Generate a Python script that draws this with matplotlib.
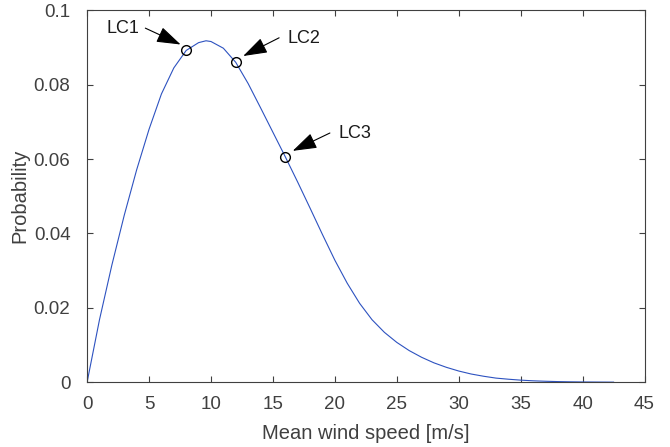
import numpy as np
import matplotlib
matplotlib.use("Agg")
import matplotlib.pyplot as plt

plt.rcParams['font.family'] = ['Liberation Sans', 'DejaVu Sans']

# Probability curve (wind speed in m/s)
wind_speed = [0, 1, 2, 3, 4, 5, 6, 7, 8, 9, 9.6, 10, 11, 12, 13, 14, 15, 16,
              17, 18, 19, 20, 21, 22, 23, 24, 25, 26, 27, 28, 29, 30, 31, 32,
              33, 34, 35, 36, 37, 38, 39, 40, 41, 42, 42.5]
probability = [0.0, 0.0168, 0.0315, 0.0449, 0.0571, 0.0680, 0.0775, 0.0845,
               0.0892, 0.0913, 0.0918, 0.0916, 0.0898, 0.0860, 0.0803, 0.0738,
               0.0672, 0.0606, 0.0538, 0.0468, 0.0397, 0.0328, 0.0266, 0.0212,
               0.0168, 0.0134, 0.0107, 0.0085, 0.0067, 0.0052, 0.0040, 0.0030,
               0.0022, 0.0016, 0.0011, 0.0008, 0.00055, 0.00037, 0.00025,
               0.00016, 0.0001, 0.00006, 0.00004, 0.00002, 0.00001]

# load cases marked on the curve
lc_names = ['LC1', 'LC2', 'LC3']
lc_speed = [8, 12, 16]
lc_prob = [0.0892, 0.0860, 0.0606]

fig = plt.figure(figsize=(6.7, 4.47), dpi=100)
ax = fig.add_axes([0.130, 0.145, 0.832, 0.832])

ax.plot(wind_speed, probability, color='#2d52c0', linewidth=0.8)
ax.plot(lc_speed, lc_prob, linestyle='none', marker='o', markersize=7,
        markerfacecolor='none', markeredgecolor='black', markeredgewidth=1.0)

# label position, arrow start and arrow tip for each load case
text_pos = [(2.9, 0.0950), (17.5, 0.0925), (21.6, 0.0670)]
arrow_tail = [(4.7, 0.0952), (15.5, 0.0926), (19.6, 0.0670)]
arrow_tip = [(7.55, 0.0908), (12.6, 0.0877), (16.6, 0.0622)]

for name, tp, tail, tip in zip(lc_names, text_pos, arrow_tail, arrow_tip):
    ax.text(tp[0], tp[1], name, ha='center', va='center', fontsize=13,
            color='#1a1a1a')
    ax.annotate('', xy=tip, xytext=tail,
                arrowprops=dict(arrowstyle='-|>,head_length=1.5,head_width=0.5',
                                color='black', lw=0.8, shrinkA=0, shrinkB=0,
                                mutation_scale=10))

ax.set_xlim(0, 45)
ax.set_ylim(0, 0.1)
ax.set_xticks(np.arange(0, 46, 5))
ax.set_yticks([0, 0.02, 0.04, 0.06, 0.08, 0.1])
ax.set_yticklabels(['0', '0.02', '0.04', '0.06', '0.08', '0.1'])

ax.set_xlabel('Mean wind speed [m/s]', fontsize=14.5, color='#404040', labelpad=8)
ax.set_ylabel('Probability', fontsize=14.5, color='#404040', labelpad=3)

for side in ax.spines.values():
    side.set_color('#404040')
    side.set_linewidth(0.8)
ax.tick_params(direction='in', length=4, width=0.8, colors='#404040',
               labelsize=13.5, top=True, right=True, labeltop=False,
               labelright=False)
ax.tick_params(axis='x', pad=10)
ax.tick_params(axis='y', pad=12)

fig.savefig('out.png', dpi=100)
